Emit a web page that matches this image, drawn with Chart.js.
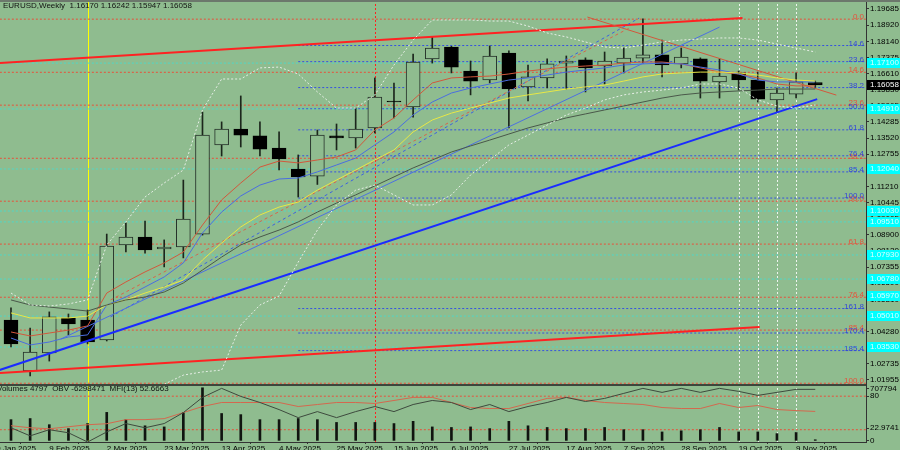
<!DOCTYPE html>
<html>
<head>
<meta charset="utf-8">
<script src="https://cdn.jsdelivr.net/npm/chart.js@4.4.1/dist/chart.umd.min.js"></script>
<style>
  html, body { margin: 0; padding: 0; background: #8fbc8f; overflow: hidden; }
  canvas { display: block; }
</style>
</head>
<body>
<canvas id="chart" width="900" height="450"></canvas>
<script>
// EURUSD weekly, bar 0 = week of 26 Jan 2025
const open  = [1.0482,1.0239,1.0325,1.0492,1.0482,1.0387,1.0841,1.0879,1.0822,1.0831,1.0893,1.1319,1.1395,1.1362,1.1304,1.1204,1.1170,1.1362,1.1352,1.1400,1.1529,1.1500,1.1730,1.1787,1.1672,1.1629,1.1758,1.1596,1.1639,1.1710,1.1725,1.1696,1.1710,1.1734,1.1749,1.1706,1.1730,1.1620,1.1663,1.1629,1.1534,1.1562,1.16170];
const high  = [1.0540,1.0444,1.0521,1.0511,1.0530,1.0893,1.0946,1.0955,1.0865,1.1151,1.1476,1.1429,1.1553,1.1429,1.1381,1.1271,1.1390,1.1419,1.1495,1.1639,1.1615,1.1753,1.1835,1.1790,1.1720,1.1792,1.1768,1.1701,1.1730,1.1744,1.1735,1.1763,1.1782,1.1921,1.1820,1.1782,1.1735,1.1730,1.1672,1.1667,1.1591,1.1663,1.16242];
const low   = [1.0353,1.0215,1.0286,1.0411,1.0368,1.0382,1.0807,1.0802,1.0736,1.0779,1.0888,1.1266,1.1309,1.1266,1.1199,1.1070,1.1130,1.1295,1.1304,1.1376,1.1448,1.1452,1.1710,1.1663,1.1558,1.1615,1.1400,1.1529,1.1591,1.1586,1.1572,1.1610,1.1663,1.1710,1.1644,1.1687,1.1543,1.1543,1.1581,1.1524,1.1476,1.1543,1.15947];
const close = [1.0368,1.0329,1.0497,1.0463,1.0377,1.0836,1.0879,1.0817,1.0831,1.0965,1.1366,1.1395,1.1366,1.1299,1.1252,1.1166,1.1366,1.1352,1.1395,1.1548,1.1524,1.1715,1.1782,1.1691,1.1624,1.1744,1.1586,1.1644,1.1706,1.1720,1.1687,1.1720,1.1734,1.1749,1.1701,1.1739,1.1624,1.1648,1.1629,1.1538,1.1567,1.1620,1.16058];

// moving averages and bands
const redMA    = [1.0425,1.0406,1.0420,1.0434,1.0454,1.0611,1.0664,1.0712,1.0755,1.0807,1.0936,1.1056,1.1137,1.1213,1.1242,1.1233,1.1247,1.1261,1.1295,1.1390,1.1448,1.1534,1.1615,1.1639,1.1644,1.1648,1.1658,1.1672,1.1682,1.1691,1.1696,1.1701,1.1710,1.1715,1.1715,1.1706,1.1687,1.1667,1.1658,1.1639,1.1610,1.1601,1.1601];
const blueMA   = [1.0396,1.0363,1.0377,1.0401,1.0411,1.0554,1.0592,1.0640,1.0688,1.0755,1.0898,1.0998,1.1075,1.1127,1.1156,1.1161,1.1190,1.1223,1.1256,1.1319,1.1381,1.1462,1.1524,1.1567,1.1591,1.1610,1.1629,1.1639,1.1653,1.1667,1.1677,1.1687,1.1701,1.1706,1.1710,1.1706,1.1691,1.1677,1.1658,1.1629,1.1620,1.1620,1.1620];
const yellowMA = [1.0516,1.0492,1.0492,1.0492,1.0501,1.0554,1.0578,1.0611,1.0640,1.0673,1.0769,1.0850,1.0927,1.0984,1.1022,1.1046,1.1103,1.1151,1.1199,1.1247,1.1295,1.1381,1.1438,1.1471,1.1495,1.1519,1.1543,1.1558,1.1572,1.1586,1.1596,1.1605,1.1624,1.1644,1.1658,1.1663,1.1667,1.1667,1.1663,1.1653,1.1639,1.1629,1.1624];
const grayMA   = [1.0578,1.0554,1.0544,1.0535,1.0525,1.0554,1.0578,1.0592,1.0616,1.0659,1.0721,1.0783,1.0841,1.0879,1.0912,1.0951,1.0998,1.1041,1.1080,1.1123,1.1166,1.1209,1.1247,1.1285,1.1314,1.1342,1.1371,1.1400,1.1424,1.1448,1.1467,1.1486,1.1505,1.1524,1.1543,1.1558,1.1567,1.1572,1.1577,1.1581,1.1586,1.1586,1.1586];
const upperBand = [1.0611,1.0554,1.0549,1.0559,1.0578,1.0841,1.0951,1.1070,1.1137,1.1199,1.1486,1.1634,1.1634,1.1687,1.1691,1.1658,1.1572,1.1495,1.1495,1.1558,1.1701,1.1820,1.1916,1.1916,1.1916,1.1911,1.1911,1.1887,1.1854,1.1835,1.1811,1.1787,1.1782,1.1796,1.1811,1.1820,1.1825,1.1830,1.1830,1.1820,1.1801,1.1782,1.1763];
const lowerBand = [null,null,null,null,null,null,null,null,1.0175,1.0219,1.0234,1.0243,1.0458,1.0554,1.0597,1.0759,1.0912,1.1032,1.1103,1.1127,1.1080,1.1032,1.1032,1.1080,1.1175,1.1247,1.1319,1.1366,1.1414,1.1462,1.1495,1.1534,1.1558,1.1572,1.1581,1.1591,1.1610,1.1610,1.1591,1.1534,1.1505,1.1495,1.1510];

// trend lines: [barIndex, price] pairs
const redChannelTop    = [[-0.6, 1.1710], [38.2, 1.1925]];
const redChannelBottom = [[-0.6, 1.0229], [39.1, 1.0449]];
const blueSupport      = [[-0.6, 1.0243], [42.1, 1.1538]];
const redResistance    = [[30.1, 1.1930], [43.1, 1.1557]];
const blueThinTrend    = [[2.6, 1.0391], [37.0, 1.1882]];
const redDashTrend     = [[5.2, 1.0578], [32.3, 1.1878]];
const blueDashTrend    = [[5.2, 1.0497], [32.8, 1.1925]];

// fibonacci levels
const redFibLabels  = ['0.0','14.6','23.6','38.2','50.0','61.8','76.4','85.4','100.0'];
const redFibPrices  = [1.1920,1.1666,1.1509,1.1255,1.1050,1.0845,1.0591,1.0434,1.0180];
const blueFibLabels = ['14.6','23.6','38.2','50.0','61.8','76.4','85.4','100.0','161.8','170.4','185.4'];
const blueFibPrices = [1.1794,1.1717,1.1593,1.1492,1.1391,1.1267,1.1190,1.1065,1.0537,1.0420,1.0336];
const blueFibStartBar = 15;
const cyanLevels = [1.1710,1.1491,1.1204,1.1003,1.0951,1.0793,1.0678,1.0501,1.0353];
const cyanMarks  = [1.1710,1.1491,1.1204,1.1003,1.0951,1.0793,1.0678,1.0597,1.0501,1.0353];

// marker bars
const yellowLineBar = 4;
const redLineBar = 19;
const whiteLineBars = [38, 39, 40, 41];

// lower panel (scaled to the 0..100 panel)
const volumes = [38,40,29,22,31,51,38,27,25,51,95,49,47,38,38,40,38,33,33,33,31,35,25,24,25,22,35,27,24,22,22,24,20,20,16,18,20,24,16,16,13,15,2];
const obv = [23.5,9,20,14.5,-2,16,31,23.5,31,50.6,77.8,94,79.6,68.7,56,41.6,52.4,41.6,52.4,61.5,52.4,65.1,72.3,68.7,56.1,65.1,52.4,61.5,68.7,77.8,70.5,76,85,94,86.8,94,86.8,94,88.6,81.4,86.8,92.2,92.2];
const mfi = [27.1,23.5,21.7,25.3,28.9,30.7,38,38,39.8,50.6,61.5,68.7,68.7,68.7,68.7,61.5,65.1,68.7,68.7,66.9,72.3,77.8,77.8,68.7,59.7,57.9,57.9,66.9,76,77.8,72.3,68.7,66.9,65.1,59.7,57.9,57.9,66.9,59.7,63.3,56.1,54.2,52.7];
const mfiLevels = [80, 20];

// axes
const priceTicks = [1.19685,1.18920,1.18140,1.17375,1.16610,1.15830,1.15065,1.14285,1.13520,1.12755,1.11990,1.11210,1.10445,1.09665,1.08900,1.08120,1.07355,1.06590,1.05810,1.05045,1.04280,1.03500,1.02735,1.01955];
const panelTicks = [94, 80, 22.9741, 0];
const panelTickLabels = ['707794', '80', '22.9741', '0'];
const dateTicks = [-1,2,5,8,11,14,17,20,23,26,29,32,35,38,41];
const dateLabels = ['19 Jan 2025','9 Feb 2025','2 Mar 2025','23 Mar 2025','13 Apr 2025','4 May 2025','25 May 2025','15 Jun 2025','6 Jul 2025','27 Jul 2025','17 Aug 2025','7 Sep 2025','28 Sep 2025','19 Oct 2025','9 Nov 2025'];

const titleText = 'EURUSD,Weekly  1.16170 1.16242 1.15947 1.16058';
const panelText = 'Volumes 4797  OBV -6298471  MFI(13) 52.6663';

const BG = '#8fbc8f';
const FONT = "'Liberation Sans', Arial, sans-serif";
Chart.defaults.font.family = FONT;
Chart.defaults.font.size = 8;

const series = (arr, color, extra) => Object.assign({
  type: 'line',
  data: arr.map((v, i) => ({ x: i, y: v })),
  borderColor: color,
  borderWidth: 1,
  pointRadius: 0,
  tension: 0,
  order: 0,
  yAxisID: 'y'
}, extra || {});

const segment = (pts, color, width, dash) => ({
  type: 'line',
  data: pts.map(p => ({ x: p[0], y: p[1] })),
  borderColor: color,
  borderWidth: width,
  borderDash: dash || [],
  pointRadius: 0,
  order: 0,
  yAxisID: 'y'
});

const level = (price, fromBar, color) => ({
  type: 'line',
  data: [{ x: fromBar, y: price }, { x: 45, y: price }],
  borderColor: color,
  borderWidth: 1,
  borderDash: [2, 2],
  pointRadius: 0,
  order: 6,
  yAxisID: 'y'
});

const datasets = [];
cyanLevels.forEach(p => datasets.push(level(p, -1, '#4fd8c8')));
redFibPrices.forEach(p => datasets.push(level(p, -1, '#e8503a')));
blueFibPrices.forEach(p => datasets.push(level(p, blueFibStartBar, '#3552e0')));

// candles
datasets.push({
  type: 'bar',
  data: low.map((l, i) => ({ x: i, y: [l, high[i]] })),
  backgroundColor: '#1c261c',
  barThickness: 1,
  grouped: false,
  order: 2,
  yAxisID: 'y'
});
datasets.push({
  type: 'bar',
  data: open.map((o, i) => ({ x: i, y: [o, close[i]] })),
  backgroundColor: open.map((o, i) => close[i] >= o ? BG : '#000'),
  borderColor: open.map((o, i) => close[i] >= o ? '#26322a' : '#000'),
  borderWidth: 1,
  borderSkipped: false,
  barThickness: 14,
  grouped: false,
  order: 1,
  yAxisID: 'y'
});

// indicators on price
datasets.push(series(upperBand, '#e6eee6', { borderDash: [2, 2] }));
datasets.push(series(lowerBand, '#e6eee6', { borderDash: [2, 2] }));
datasets.push(series(grayMA, '#4a584a'));
datasets.push(series(yellowMA, '#e8e846'));
datasets.push(series(blueMA, '#4a6ee0'));
datasets.push(series(redMA, '#d2583c'));
datasets.push(segment(blueThinTrend, '#4c70e2', 1));
datasets.push(segment(redDashTrend, '#d8644a', 1, [3, 3]));
datasets.push(segment(blueDashTrend, '#3c62e0', 1, [3, 3]));
datasets.push(segment(redResistance, '#d2583c', 1));
datasets.push(segment(redChannelTop, '#ff2222', 2));
datasets.push(segment(redChannelBottom, '#ff2222', 2));
datasets.push(segment(blueSupport, '#1a2cff', 2));

// lower panel
mfiLevels.forEach(v => datasets.push({
  type: 'line',
  data: [{ x: -1, y: v }, { x: 45, y: v }],
  borderColor: '#e8503a',
  borderWidth: 1,
  borderDash: [2, 2],
  pointRadius: 0,
  order: 6,
  yAxisID: 'y2'
}));
datasets.push({
  type: 'bar',
  data: volumes.map((v, i) => ({ x: i, y: v })),
  backgroundColor: '#101410',
  barThickness: 2,
  grouped: false,
  order: 3,
  yAxisID: 'y2'
});
datasets.push(series(obv, '#3e4a3e', { yAxisID: 'y2' }));
datasets.push(series(mfi, '#d4684e', { yAxisID: 'y2' }));

const decorations = {
  id: 'decorations',
  beforeDraw(chart) {
    const { ctx, width, height } = chart;
    ctx.save();
    ctx.fillStyle = BG;
    ctx.fillRect(0, 0, width, height);
    ctx.restore();
  },
  beforeDatasetsDraw(chart) {
    const { ctx, chartArea } = chart;
    const xs = chart.scales.x;
    const vline = (bar, color, dash) => {
      const x = Math.round(xs.getPixelForValue(bar)) + 0.5;
      ctx.save();
      ctx.strokeStyle = color;
      ctx.lineWidth = 1;
      ctx.setLineDash(dash);
      ctx.beginPath();
      ctx.moveTo(x, chartArea.top);
      ctx.lineTo(x, chartArea.bottom);
      ctx.stroke();
      ctx.restore();
    };
    whiteLineBars.forEach(b => vline(b, '#eef4ee', [2, 2]));
    vline(redLineBar, '#ff2020', [2, 2]);
    vline(yellowLineBar, '#ffff00', []);
  },
  afterDraw(chart) {
    const { ctx, chartArea, width } = chart;
    const ys = chart.scales.y;
    ctx.save();
    // top border and panel separator
    ctx.fillStyle = '#6c786c';
    ctx.fillRect(0, 0, width, 2);
    ctx.fillStyle = '#3c463c';
    ctx.fillRect(0, ys.bottom - 1, chartArea.right, 2);

    ctx.font = '8px ' + FONT;
    ctx.textBaseline = 'middle';
    ctx.textAlign = 'left';
    ctx.fillStyle = '#111';
    ctx.fillText(titleText, 3, 6);
    ctx.fillText(panelText, -3, ys.bottom + 4);

    // fib labels
    ctx.textAlign = 'right';
    ctx.fillStyle = '#e8503a';
    redFibPrices.forEach((p, i) => ctx.fillText(redFibLabels[i], chartArea.right - 2, ys.getPixelForValue(p) - 2));
    ctx.fillStyle = '#3347d8';
    blueFibPrices.forEach((p, i) => ctx.fillText(blueFibLabels[i], chartArea.right - 2, ys.getPixelForValue(p) - 2));

    // axis markers
    ctx.textAlign = 'left';
    const mark = (p, fill, text) => {
      const y = Math.round(ys.getPixelForValue(p));
      ctx.fillStyle = fill;
      ctx.fillRect(chartArea.right + 1, y - 5, width - chartArea.right - 1, 10);
      ctx.fillStyle = text;
      ctx.fillText(p.toFixed(5), chartArea.right + 4, y);
    };
    cyanMarks.forEach(p => mark(p, '#00ffff', '#d8ffff'));
    mark(close[close.length - 1], '#000', '#ffffff');
    ctx.restore();
  }
};

new Chart(document.getElementById('chart'), {
  type: 'bar',
  data: { datasets },
  plugins: [decorations],
  options: {
    responsive: false,
    animation: false,
    devicePixelRatio: 1,
    layout: { padding: 0 },
    plugins: { legend: { display: false }, tooltip: { enabled: false } },
    scales: {
      x: {
        type: 'linear',
        min: -0.574,
        max: 44.65,
        offset: false,
        grid: { drawOnChartArea: false, drawTicks: true, tickLength: 2, color: '#333' },
        border: { display: true, color: '#333' },
        afterBuildTicks: s => { s.ticks = dateTicks.map(v => ({ value: v })); },
        ticks: {
          autoSkip: false, maxRotation: 0, align: 'start', padding: 0, color: '#000',
          font: { size: 8 },
          callback: (v, i) => dateLabels[i]
        },
        afterFit: s => { s.height = 8; s.paddingLeft = 0; s.paddingRight = 0; }
      },
      y: {
        position: 'right',
        stack: 'panels',
        stackWeight: 385,
        min: 1.01716,
        max: 1.20115,
        grid: { drawOnChartArea: false, tickLength: 3, color: '#333' },
        border: { display: true, color: '#333' },
        afterBuildTicks: s => { s.ticks = priceTicks.map(v => ({ value: v })); },
        ticks: { autoSkip: false, padding: 1, color: '#000', font: { size: 8 }, callback: v => v.toFixed(5) },
        afterFit: s => { s.width = 34; s.paddingTop = 0; s.paddingBottom = 0; }
      },
      y2: {
        position: 'right',
        stack: 'panels',
        stackWeight: 57,
        min: -2,
        max: 100,
        grid: { drawOnChartArea: false, tickLength: 3, color: '#333' },
        border: { display: true, color: '#333' },
        afterBuildTicks: s => { s.ticks = panelTicks.map(v => ({ value: v })); },
        ticks: { autoSkip: false, padding: 1, color: '#000', font: { size: 8 }, callback: (v, i) => panelTickLabels[i] },
        afterFit: s => { s.width = 34; s.paddingTop = 0; s.paddingBottom = 0; }
      }
    }
  }
});
</script>
</body>
</html>
